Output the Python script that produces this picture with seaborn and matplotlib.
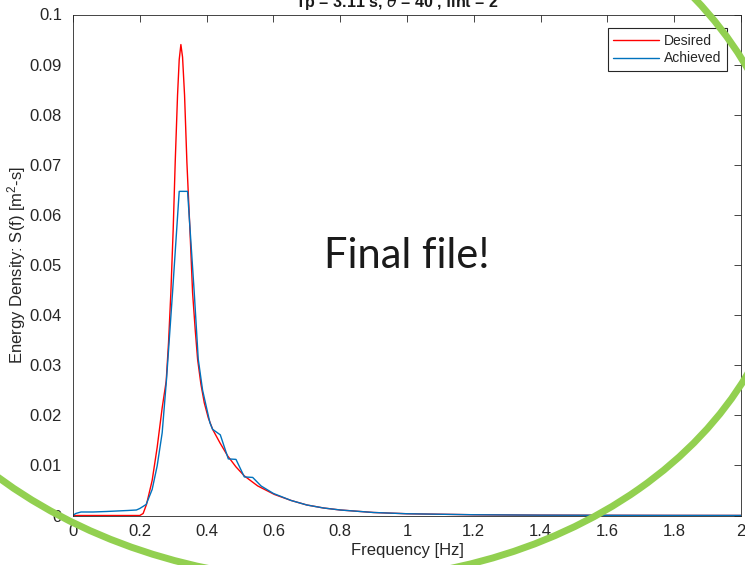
import numpy as np
import matplotlib
matplotlib.use("Agg")
import matplotlib.pyplot as plt
import seaborn as sns
from matplotlib.patches import Ellipse
from matplotlib.transforms import IdentityTransform

sns.set_theme(style="white")
plt.rcParams['font.family'] = ['Liberation Sans', 'DejaVu Sans']
plt.rcParams['mathtext.default'] = 'regular'

# desired spectrum (red)
f_desired = [0.0, 0.10, 0.20, 0.21, 0.22, 0.237, 0.252, 0.267, 0.279, 0.286, 0.293,
             0.300, 0.306, 0.313, 0.318, 0.323, 0.328, 0.334, 0.341, 0.350, 0.358,
             0.366, 0.373, 0.383, 0.393, 0.405, 0.418, 0.44, 0.463, 0.488, 0.513,
             0.553, 0.603, 0.653, 0.70, 0.75, 0.80, 0.90, 1.0, 1.2, 1.4, 1.6, 1.8, 2.0]
s_desired = [0.0, 0.0, 0.0, 0.0004, 0.0022, 0.0070, 0.0136, 0.0215, 0.0268, 0.0345, 0.0445,
             0.0572, 0.0705, 0.0839, 0.0910, 0.0940, 0.0915, 0.0839, 0.0705, 0.0572, 0.0445,
             0.0370, 0.0312, 0.0262, 0.0225, 0.0195, 0.0172, 0.0145, 0.0119, 0.0097, 0.0079,
             0.0059, 0.0042, 0.0030, 0.0021, 0.0015, 0.0011, 0.0006, 0.00035, 0.00015,
             0.00007, 0.00004, 0.00002, 0.00001]

# achieved spectrum (blue)
f_achieved = [0.0, 0.008, 0.024, 0.06, 0.10, 0.164, 0.19, 0.20, 0.219, 0.237, 0.252,
              0.267, 0.280, 0.298, 0.318, 0.343, 0.363, 0.375, 0.388, 0.41, 0.418, 0.441,
              0.465, 0.488, 0.513, 0.538, 0.563, 0.60, 0.653, 0.70, 0.75, 0.80, 0.90,
              1.0, 1.2, 1.4, 1.6, 1.8, 2.0]
s_achieved = [0.0, 0.0004, 0.0007, 0.0007, 0.0008, 0.0010, 0.0011, 0.0014, 0.0022, 0.0052,
              0.0099, 0.0165, 0.0272, 0.0445, 0.0647, 0.0647, 0.0445, 0.0312, 0.0250,
              0.0185, 0.0172, 0.0161, 0.0113, 0.0112, 0.0077, 0.0076, 0.0059, 0.0044,
              0.0030, 0.0021, 0.0015, 0.0011, 0.0006, 0.00035, 0.00015, 0.00007, 0.00004,
              0.00002, 0.00001]

x_ticks = [0, 0.2, 0.4, 0.6, 0.8, 1.0, 1.2, 1.4, 1.6, 1.8, 2.0]
y_ticks = [0, 0.01, 0.02, 0.03, 0.04, 0.05, 0.06, 0.07, 0.08, 0.09, 0.1]

fig = plt.figure(figsize=(7.45, 5.65), dpi=100)
ax = fig.add_axes([73 / 745, 49.5 / 565, 668 / 745, 501 / 565])

sns.lineplot(x=f_desired, y=s_desired, color='#FF0000', lw=1, label='Desired',
             ax=ax, sort=False, estimator=None)
sns.lineplot(x=f_achieved, y=s_achieved, color='#0072BD', lw=1, label='Achieved',
             ax=ax, sort=False, estimator=None)

ax.set_xlim(0, 2)
ax.set_ylim(0, 0.1)
ax.set_xticks(x_ticks)
ax.set_xticklabels([f"{v:g}" for v in x_ticks])
ax.set_yticks(y_ticks)
ax.set_yticklabels([f"{v:g}" for v in y_ticks])
ax.tick_params(direction='in', length=5, width=0.6, colors='#262626', labelsize=12,
               top=True, right=True, pad=6)
ax.tick_params(axis='y', pad=8)
for sp in ax.spines.values():
    sp.set_color('#262626')
    sp.set_linewidth(0.6)

ax.set_xlabel("Frequency [Hz]", fontsize=12, color='#262626')
ax.xaxis.set_label_coords(0.5, -0.055)
ax.set_ylabel("Energy Density: S(f) [m$^2$-s]", fontsize=12, color='#262626')
ax.yaxis.set_label_coords(-0.068, 0.5)

fig.text(397 / 745, 1 - 6.7 / 565, r"Tp = 3.11 s, $\mathit{\theta}$ = 40$^{\circ}$, fint = 2",
         ha='center', va='baseline', fontsize=11.5, fontweight='bold', color='#1a1a1a')

leg = ax.legend(loc='upper right', fontsize=10, frameon=True, fancybox=False,
                edgecolor='#262626', framealpha=1, borderaxespad=1.0, handlelength=3.3,
                handletextpad=0.35, labelspacing=0.25, borderpad=0.4)
leg.get_frame().set_linewidth(0.8)

# overlay note and green ring
fig.text(407 / 745, 1 - 268 / 565, "Final file!", ha='center', va='baseline',
         fontsize=30, family='Lato', color='#1a1a1a')
ring = Ellipse((318, 352), 945, 735, angle=177.2, fill=False,
               edgecolor='#92D050', lw=5, transform=IdentityTransform())
fig.add_artist(ring)

fig.savefig("out.png", dpi=100)
